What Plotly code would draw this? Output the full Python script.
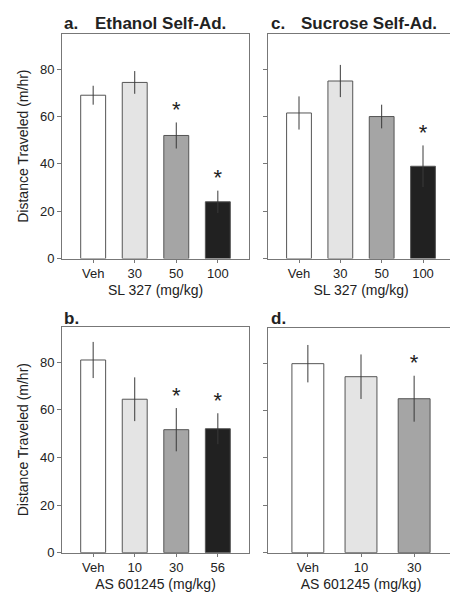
import plotly.graph_objects as go

# ---- data ----
cats_sl = ["Veh", "30", "50", "100"]
cats_as_eth = ["Veh", "10", "30", "56"]
cats_as_suc = ["Veh", "10", "30"]

eth_sl_mean = [69.0, 74.4, 52.0, 24.0]
eth_sl_sem = [4.0, 4.8, 5.5, 4.7]
eth_sl_sig = [False, False, True, True]

suc_sl_mean = [61.5, 75.0, 60.0, 39.0]
suc_sl_sem = [7.0, 6.8, 5.0, 8.8]
suc_sl_sig = [False, False, False, True]

eth_as_mean = [81.0, 64.5, 51.7, 52.1]
eth_as_sem = [7.6, 9.2, 9.1, 6.5]
eth_as_sig = [False, False, True, True]

suc_as_mean = [79.8, 74.3, 65.0]
suc_as_sem = [7.9, 9.4, 9.7]
suc_as_sig = [False, False, True]

bar_colors4 = ["#ffffff", "#e4e4e4", "#a5a5a5", "#212121"]
bar_colors3 = ["#ffffff", "#e4e4e4", "#a5a5a5"]

W, H = 458, 600
def fx(px): return px / W
def fy(py): return 1 - py / H

panels = [
    (cats_sl, eth_sl_mean, eth_sl_sem, eth_sl_sig, bar_colors4, (54, 241), (26, 254), "SL 327 (mg/kg)", True),
    (cats_sl, suc_sl_mean, suc_sl_sem, suc_sl_sig, bar_colors4, (260, 446), (26, 254), "SL 327 (mg/kg)", False),
    (cats_as_eth, eth_as_mean, eth_as_sem, eth_as_sig, bar_colors4, (54, 241), (323, 552), "AS 601245 (mg/kg)", True),
    (cats_as_suc, suc_as_mean, suc_as_sem, suc_as_sig, bar_colors3, (260, 446), (324, 552), "AS 601245 (mg/kg)", False),
]

fig = go.Figure()
FONT = "Liberation Sans, Arial, sans-serif"
annotations = []
layout_axes = {}

for i, (cats, mean, sem, sig, cols, xd, yd, xt, showy) in enumerate(panels, start=1):
    xa = "x" if i == 1 else f"x{i}"
    ya = "y" if i == 1 else f"y{i}"
    fig.add_trace(go.Bar(
        x=cats, y=mean, width=0.6,
        marker=dict(color=cols, line=dict(color="#555555", width=1)),
        error_y=dict(type="data", array=sem, visible=True, color="#3a3a3a", thickness=1, width=0),
        xaxis=xa, yaxis=ya, showlegend=False, hoverinfo="x+y",
    ))
    sx = [c for c, s in zip(cats, sig) if s]
    sy = [m + e for m, e, s in zip(mean, sem, sig) if s]
    fig.add_trace(go.Scatter(
        x=sx, y=sy, mode="text", text=["*"] * len(sx), textposition="top center",
        textfont=dict(family=FONT, size=22, color="#222222"),
        xaxis=xa, yaxis=ya, showlegend=False, hoverinfo="skip",
    ))
    n = len(cats)
    xkey = "xaxis" if i == 1 else f"xaxis{i}"
    ykey = "yaxis" if i == 1 else f"yaxis{i}"
    layout_axes[xkey] = dict(
        domain=[fx(xd[0]), fx(xd[1])], anchor=ya, type="category",
        range=[-0.75, n - 0.25],
        showline=True, linecolor="#777777", linewidth=1, mirror=True,
        ticks="outside", ticklen=3, tickcolor="#777777",
        tickfont=dict(family=FONT, size=13, color="#222222"),
        title=dict(text=xt, font=dict(family=FONT, size=14, color="#222222"), standoff=4),
        showgrid=False, zeroline=False, fixedrange=True,
    )
    layout_axes[ykey] = dict(
        domain=[fy(yd[1]), fy(yd[0])], anchor=xa,
        range=[0, 95], tickvals=[0, 20, 40, 60, 80],
        showline=True, linecolor="#777777", linewidth=1, mirror=True,
        ticks="outside", ticklen=4, tickcolor="#777777",
        showticklabels=showy,
        tickfont=dict(family=FONT, size=13, color="#222222"),
        title=dict(text="Distance Traveled (m/hr)" if showy else "",
                   font=dict(family=FONT, size=14, color="#222222"), standoff=8),
        showgrid=False, zeroline=False, fixedrange=True,
    )

titles = [
    ("a.", 54, 16), ("Ethanol Self-Ad.", 85, 16),
    ("c.", 261, 16), ("Sucrose Self-Ad.", 291, 16),
    ("b.", 54, 315), ("d.", 261, 315),
]
for txt, px, py in titles:
    annotations.append(dict(
        text=f"<b>{txt}</b>", x=fx(px), y=fy(py), xref="paper", yref="paper",
        xanchor="left", yanchor="middle", showarrow=False,
        font=dict(family=FONT, size=17, color="#222222"),
    ))

fig.update_layout(
    width=W, height=H, margin=dict(l=0, r=0, t=0, b=0),
    paper_bgcolor="white", plot_bgcolor="white",
    annotations=annotations, bargap=0.4,
    **layout_axes,
)

fig.write_html("out.html")
